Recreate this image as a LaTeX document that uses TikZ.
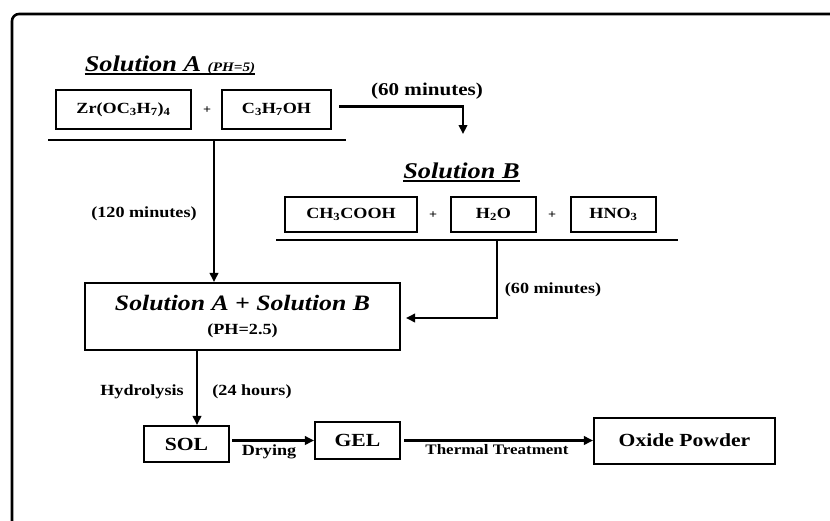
\documentclass[tikz,border=0pt]{standalone}
\usepackage{fontspec}
\setmainfont{Liberation Serif}[FakeStretch=1.17]
\usetikzlibrary{arrows.meta}
\tikzset{
  box/.style={draw, line width=2.1pt, inner sep=0pt, align=center, font=\fontsize{15.5}{18}\selectfont\bfseries},
  lbl/.style={inner sep=0pt, font=\fontsize{15.5}{18}\selectfont\bfseries},
  head/.style={inner sep=0pt, anchor=base, font=\fontsize{22.5}{26}\selectfont\bfseries\itshape},
  bar/.style={line width=2.1pt},
  uline/.style={line width=1.4pt},
  arr/.style={line width=2.1pt, -{Triangle[length=9pt,width=8.5pt]}},
  frame/.style={line width=2.6pt, rounded corners=7pt},
}
\begin{document}
\begin{tikzpicture}[x=1pt,y=-1pt]
\useasboundingbox (0,0) rectangle (830,520);
% outer frame (cropped)
\coordinate (f1) at (12,521);
\coordinate (f2) at (12,14);
\coordinate (f3) at (831,14);
\draw[frame] (f1) -- (f2) -- (f3);

% Solution A
\node[head] (headA) at (170,71) {Solution A {\fontsize{13}{15}\selectfont(PH=5)}};
\draw[uline] ([yshift=-3pt]headA.base west) -- ([yshift=-3pt]headA.base east);
\node[box, minimum width=135pt, minimum height=39pt] (zr) at (123.5,109.5) {Zr(OC\textsubscript{3}H\textsubscript{7})\textsubscript{4}};
\node[lbl, font=\fontsize{12}{14}\selectfont\bfseries] (plA) at (207,110) {+};
\node[box, minimum width=109pt, minimum height=39pt] (c3) at (276.5,109.5) {C\textsubscript{3}H\textsubscript{7}OH};
\coordinate (la1) at (48,140);
\coordinate (la2) at (346,140);
\draw[bar] (la1) -- (la2);

% 60 minutes arrow to Solution B
\coordinate (t60) at (463,134);
\draw[arr] ([xshift=7pt,yshift=3pt]c3.east) -| (t60);
\node[lbl, font=\fontsize{18}{20}\selectfont\bfseries] (m60a) at (427,91) {(60 minutes)};

% Solution B
\node[head] (headB) at (461.5,178) {Solution B};
\draw[uline] ([yshift=-3pt]headB.base west) -- ([yshift=-3pt]headB.base east);
\node[box, minimum width=132pt, minimum height=35pt] (ch) at (351,214.5) {CH\textsubscript{3}COOH};
\node[lbl, font=\fontsize{12}{14}\selectfont\bfseries] (plB1) at (433,215) {+};
\node[box, minimum width=85pt, minimum height=35pt] (h2o) at (493.5,214.5) {H\textsubscript{2}O};
\node[lbl, font=\fontsize{12}{14}\selectfont\bfseries] (plB2) at (552,215) {+};
\node[box, minimum width=85pt, minimum height=35pt] (hno) at (613.5,214.5) {HNO\textsubscript{3}};
\coordinate (lb1) at (276,240);
\coordinate (lb2) at (678,240);
\draw[bar] (lb1) -- (lb2);

% Combined solution
\node[box, minimum width=315pt, minimum height=67pt] (ab) at (242.5,316.5)
  {{\fontsize{22}{24}\selectfont\itshape Solution A + Solution B}\\[6pt]{\fontsize{15.5}{18}\selectfont (PH=2.5)}};

% arrows into combined
\coordinate (pA) at (214,140);
\draw[arr] (pA) -- (pA |- ab.north);
\node[lbl] (m120) at (144,214) {(120 minutes)};
\coordinate (pB) at (497,240);
\draw[arr] (pB) |- ([xshift=5pt,yshift=-1.5pt]ab.east);
\node[lbl] (m60b) at (553,290) {(60 minutes)};

% bottom row
\node[box, font=\fontsize{18.5}{20}\selectfont\bfseries, minimum width=85pt, minimum height=36pt] (sol) at (186.5,444) {SOL};
\node[box, font=\fontsize{18.5}{20}\selectfont\bfseries, minimum width=85pt, minimum height=37pt] (gel) at (357.5,440.5) {GEL};
\node[box, font=\fontsize{18.5}{20}\selectfont\bfseries, minimum width=181pt, minimum height=46pt] (ox) at (684.5,441) {\raisebox{2pt}{Oxide Powder}};

\coordinate (hx) at (197,0);
\draw[arr] (ab.south -| hx) -- (sol.north -| hx);
\node[lbl] (hyd) at (142,392) {Hydrolysis};
\node[lbl] (h24) at (252,392) {(24 hours)};

\draw[arr] ([xshift=2pt]sol.east |- gel.west) -- (gel.west);
\node[lbl] (dry) at (269,452) {Drying};
\draw[arr] ([xshift=3pt]gel.east) -- (ox.west |- gel.east);
\node[lbl, font=\fontsize{14.5}{17}\selectfont\bfseries] (tt) at (497,450) {Thermal Treatment};
\end{tikzpicture}
\end{document}
